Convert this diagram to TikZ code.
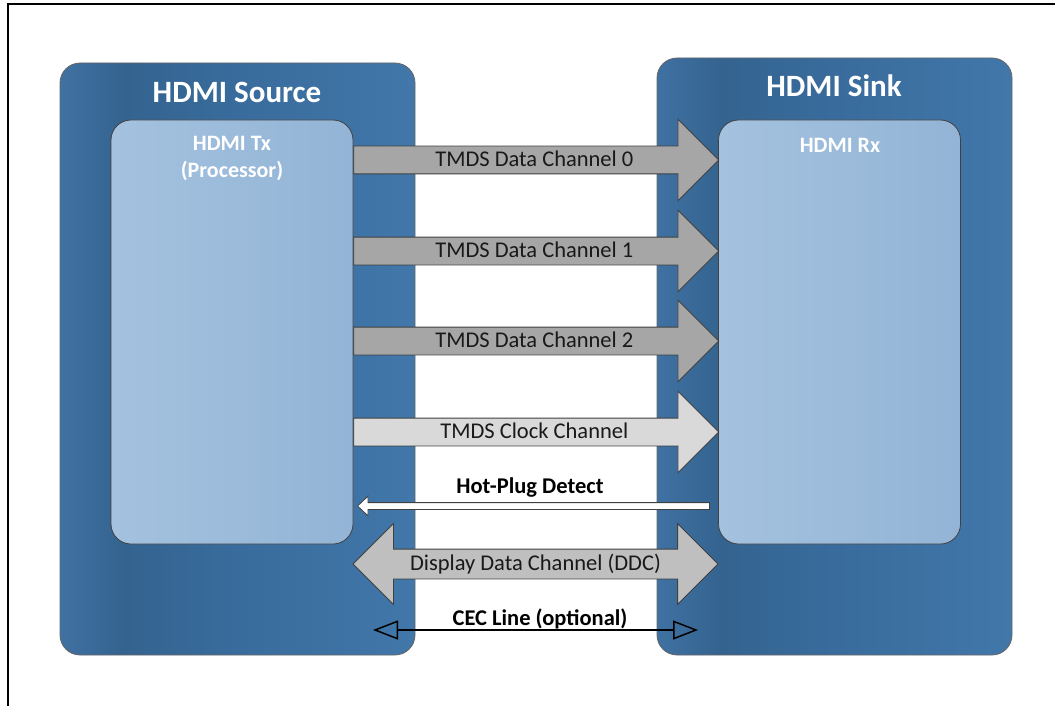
\documentclass[tikz,border=0pt]{standalone}
\usepackage{fontspec}
\setmainfont{Carlito}
\usetikzlibrary{shapes.arrows, arrows.meta, positioning}

\definecolor{boxedge}{HTML}{3F71A2}
\definecolor{boxdark}{HTML}{34638F}
\definecolor{boxmid}{HTML}{386B9B}
\definecolor{boxlight}{HTML}{4277AA}
\definecolor{inleft}{HTML}{A4C2DF}
\definecolor{inright}{HTML}{93B4D6}
\definecolor{dataarrow}{HTML}{A6A6A6}
\definecolor{clockarrow}{HTML}{D9D9D9}
\definecolor{ddcarrow}{HTML}{BFBFBF}
\definecolor{outline}{HTML}{404040}
\pgfdeclarehorizontalshading{hdmibox}{100bp}{color(0bp)=(boxedge); color(25bp)=(boxedge); color(34bp)=(boxdark); color(48bp)=(boxmid); color(75bp)=(boxlight); color(100bp)=(boxlight)}

\begin{document}
\begin{tikzpicture}[
        x=1pt, y=-1pt,
        outerbox/.style={draw=outline!80, shading=hdmibox, rounded corners=20, line width=0.8},
        innerbox/.style={draw=outline, left color=inleft, right color=inright, rounded corners=20, line width=0.8,
            minimum width=242, minimum height=424},
        title/.style={text=white, font=\fontsize{31}{36}\selectfont\bfseries},
        subtitle/.style={text=white, font=\fontsize{22}{27}\selectfont\bfseries, align=center},
        tmds/.style={single arrow, draw=outline, line width=0.8, anchor=tail, minimum height=365,
            single arrow head extend=27, single arrow tip angle=90, inner ysep=3, inner xsep=2,
            text height=17, text depth=4, text=black!90, font=\fontsize{22.5}{26}\selectfont},
        lbl/.style={text=black, font=\fontsize{22.5}{26}\selectfont\bfseries},
        cec/.style={line width=1.5, {Triangle[open, length=25, width=19, line width=1.5]}-{Triangle[open, length=25, width=19, line width=1.5]}}
    ]
    \useasboundingbox (0,0) rectangle (1055,706);
    \draw[line width=1.6] (8,706) -- (8,4) -- (1055,4);

    % source and sink
    \node[outerbox, minimum width=355, minimum height=592] (source) at (237.5,359) {};
    \node[outerbox, minimum width=355, minimum height=597] (sink) at (834.5,356.5) {};
    \node[title] (srctitle) at (237,92) {HDMI Source};
    \node[title] (sinktitle) at (834,86) {HDMI Sink};
    \node[innerbox] (tx) at (232,332) {};
    \node[innerbox] (rx) at (839.5,332) {};
    \node[subtitle] (txtitle) at (232,159) {HDMI Tx\\(Processor)};
    \node[subtitle] (rxtitle) at (840,145) {HDMI Rx};

    % tmds channels
    \node[tmds, fill=dataarrow] (ch0) at (tx.east |- 0,160) {\hspace*{10pt}TMDS Data Channel 0};
    \node[tmds, fill=dataarrow] (ch1) at (tx.east |- 0,251) {\hspace*{10pt}TMDS Data Channel 1};
    \node[tmds, fill=dataarrow] (ch2) at (tx.east |- 0,341) {\hspace*{10pt}TMDS Data Channel 2};
    \node[tmds, fill=clockarrow] (clk) at (tx.east |- 0,432) {\hspace*{10pt}TMDS Clock Channel};

    % hot plug
    \node[single arrow, shape border rotate=180, draw=outline, fill=white, line width=0.8, anchor=tip,
        minimum height=352, inner ysep=3, inner xsep=0, single arrow head extend=6.5,
        single arrow tip angle=87] (hpd) at (357,506) {};
    \node[lbl] (hpdlbl) at (530,488) {Hot-Plug Detect};

    % ddc
    \node[double arrow, draw=outline, fill=ddcarrow, line width=0.8, minimum height=365,
        double arrow head extend=25.5, double arrow tip angle=90, inner ysep=4, inner xsep=2,
        text height=17, text depth=4, text=black!90, font=\fontsize{22.5}{26}\selectfont] (ddc) at (535.5,564) {Display Data Channel (DDC)};

    % cec
    \coordinate (cecL) at (373,630);
    \coordinate (cecR) at (698,630);
    \draw[cec] (cecL) -- (cecR);
    \node[lbl] (ceclbl) at (540,619) {CEC Line (optional)};
\end{tikzpicture}
\end{document}
